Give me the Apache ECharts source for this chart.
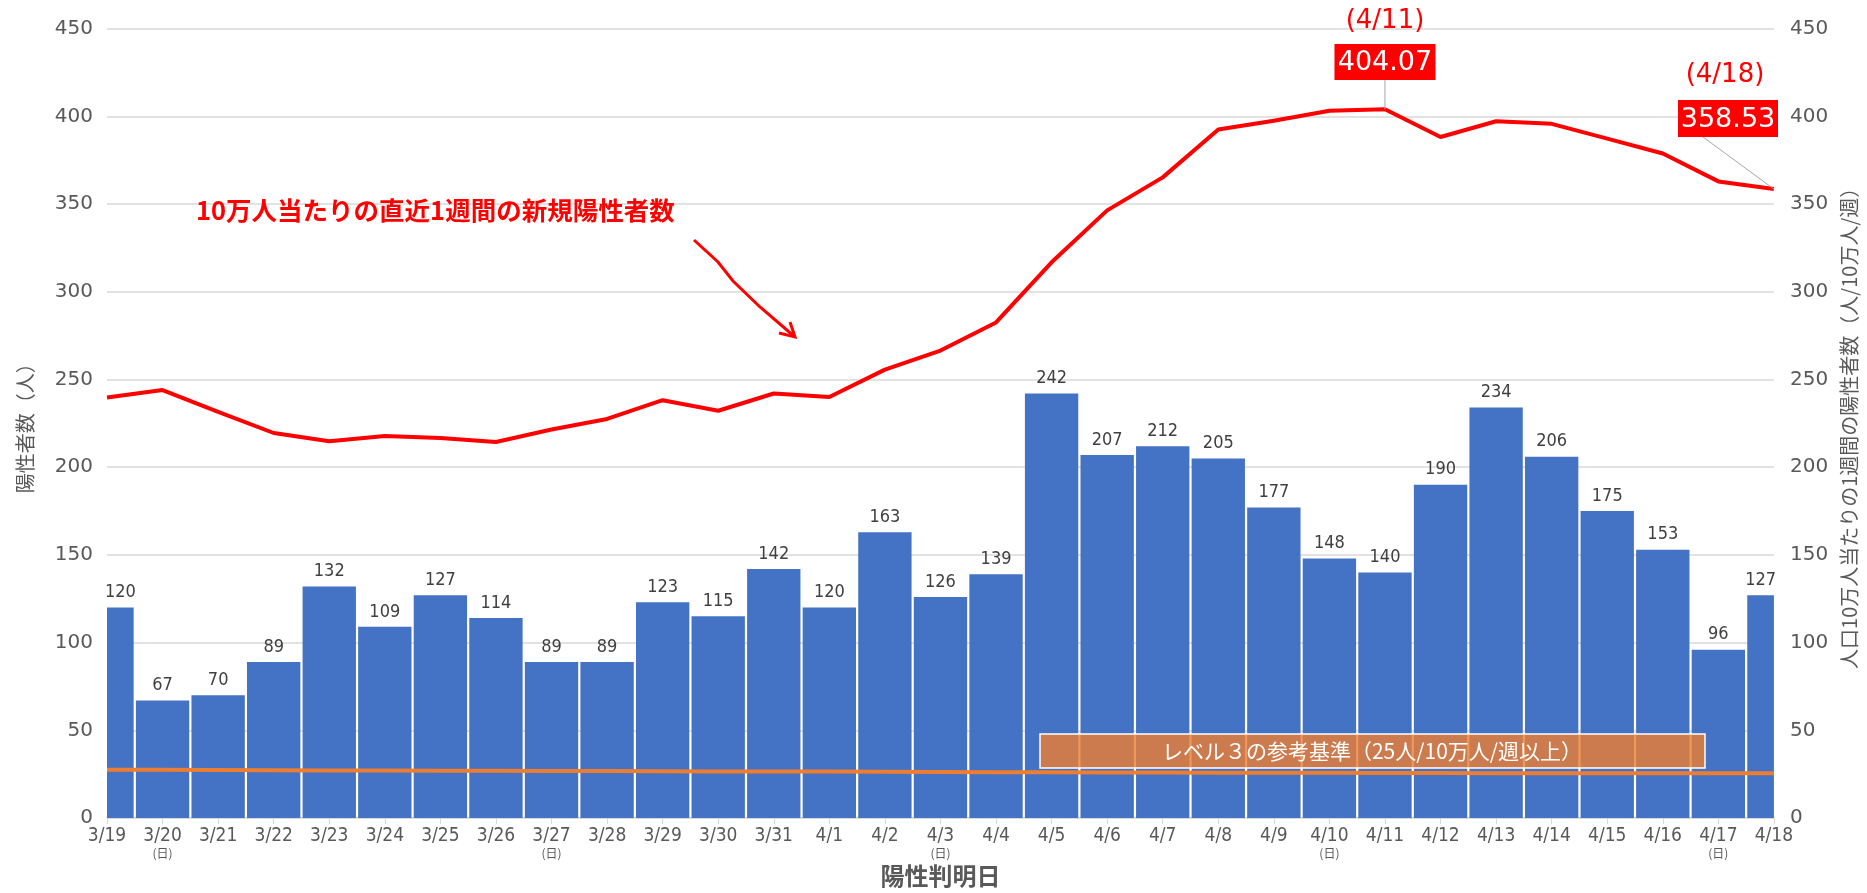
<!DOCTYPE html>
<html>
<head>
<meta charset="utf-8">
<script src="https://cdn.jsdelivr.net/npm/echarts@6/dist/echarts.min.js"></script>
<style>
html,body{margin:0;padding:0;background:#fff;}
#main{width:1867px;height:893px;}
</style>
</head>
<body>
<div id="main"></div>
<script>
/*日付*/
var dates = ['3/19','3/20','3/21','3/22','3/23','3/24','3/25','3/26','3/27','3/28','3/29','3/30','3/31',
	'4/1','4/2','4/3','4/4','4/5','4/6','4/7','4/8','4/9','4/10','4/11','4/12','4/13','4/14','4/15','4/16','4/17','4/18'];
/*日曜日*/
var sundays = ['3/20','3/27','4/3','4/10','4/17'];
/*陽性者数（人）*/
var positives = [120,67,70,89,132,109,127,114,89,89,123,115,142,120,163,126,139,
	242,207,212,205,177,148,140,190,234,206,175,153,96,127];
/*人口10万人当たりの1週間の陽性者数*/
var per100k = [239.7,244.0,231.5,219.5,214.8,217.8,216.7,214.4,221.5,227.5,238.2,232.2,242.0,
	240.0,255.6,266.5,282.5,316.8,346.4,365.2,392.5,397.5,403.2,404.07,388.2,397.2,395.7,387.3,378.8,362.9,358.53];
/*レベル３の参考基準*/
var level3 = [27.5,27.5,27.4,27.3,27.2,27.1,27.0,27.0,26.9,26.8,26.7,26.6,26.5,26.5,26.4,26.3,
	26.2,26.1,26.0,26.0,25.9,25.8,25.8,25.7,25.7,25.6,25.6,25.5,25.5,25.5,25.5];

var gray = '#595959';
var jp = '"Noto Sans CJK JP", "Noto Sans", sans-serif';
var num = '"DejaVu Sans", "Noto Sans", sans-serif';
var narrow = '"Liberation Sans Narrow", "DejaVu Sans Condensed", "Noto Sans", sans-serif';

/*棒（左右の端は半分だけ表示）*/
function renderBar(params, api){
	var idx = api.value(0);
	var val = api.value(1);
	var top = api.coord([idx, val]);
	var base = api.coord([idx, 0]);
	var w = api.size([1, 0])[0] * 0.96;
	var cs = params.coordSys;
	var x0 = Math.max(top[0] - w / 2, cs.x);
	var x1 = Math.min(top[0] + w / 2, cs.x + cs.width);
	return {
		type : 'group',
		children : [ {
			type : 'rect',
			shape : { x : x0, y : top[1], width : x1 - x0, height : base[1] - top[1] },
			style : { fill : '#4472C4' }
		}, {
			type : 'text',
			style : {
				x : (x0 + x1) / 2, y : top[1] - 6, text : String(val),
				fill : '#404040', font : '18px ' + narrow,
				textAlign : 'center', textVerticalAlign : 'bottom'
			}
		} ]
	};
}

var chart = echarts.init(document.getElementById('main'));
var option = {
	animation : false,
	grid : {
		left : 107,
		right : 87,
		top : 28.6,
		bottom : 68
	},
	xAxis : {
		type : 'category',
		data : dates,
		boundaryGap : false,
		name : '陽性判明日',
		nameLocation : 'middle',
		nameGap : 43,
		nameTextStyle : { color : gray, fontSize : 24, fontWeight : 'bold', fontFamily : jp },
		axisLine : { lineStyle : { color : '#D9D9D9', width : 1.5 } },
		axisTick : { show : true, length : 6, lineStyle : { color : '#D9D9D9' } },
		axisLabel : {
			interval : 0,
			margin : 8,
			formatter : function(value){
				if(sundays.indexOf(value) >= 0){
					return '{d|' + value + '}\n{s|(日)}';
				}
				return '{d|' + value + '}';
			},
			rich : {
				d : { fontSize : 19, lineHeight : 20, color : gray, fontFamily : narrow },
				s : { fontSize : 12, lineHeight : 14, color : gray, fontFamily : jp }
			}
		}
	},
	yAxis : [ {
		type : 'value',
		min : 0,
		max : 450,
		interval : 50,
		name : '陽性者数（人）',
		nameLocation : 'middle',
		nameRotate : 90,
		nameGap : 72,
		nameTextStyle : { color : gray, fontSize : 20, fontFamily : jp },
		axisLine : { show : false },
		axisTick : { show : false },
		axisLabel : { color : gray, fontSize : 20, margin : 14, fontFamily : num },
		splitLine : { lineStyle : { color : '#D9D9D9', width : 1.5 } }
	}, {
		type : 'value',
		min : 0,
		max : 450,
		interval : 50,
		position : 'right',
		name : '人口10万人当たりの1週間の陽性者数（人/10万人/週）',
		nameLocation : 'middle',
		nameRotate : 90,
		nameGap : 62,
		nameTextStyle : { color : gray, fontSize : 20, fontFamily : jp },
		axisLine : { show : false },
		axisTick : { show : false },
		axisLabel : { color : gray, fontSize : 20, margin : 16, fontFamily : num },
		splitLine : { show : false }
	} ],
	series : [ {
		name : '陽性者数',
		type : 'custom',
		renderItem : renderBar,
		encode : { x : 0, y : 1 },
		data : positives.map(function(v, i){ return [i, v]; }),
		z : 2
	}, {
		name : '10万人当たり',
		type : 'line',
		yAxisIndex : 1,
		data : per100k,
		symbol : 'none',
		lineStyle : { color : '#FF0000', width : 4 },
		z : 5
	}, {
		name : 'レベル３',
		type : 'line',
		data : level3,
		symbol : 'none',
		lineStyle : { color : '#ED7D31', width : 4 },
		z : 4
	} ]
};
chart.setOption(option);

/*注記*/
var iMax = dates.indexOf('4/11');
var iEnd = dates.length - 1;
var pMax = chart.convertToPixel({ seriesIndex : 1 }, [iMax, per100k[iMax]]);
var pEnd = chart.convertToPixel({ seriesIndex : 1 }, [iEnd, per100k[iEnd]]);

function valueBox(cx, top, w, h, txt){
	return {
		type : 'group',
		z : 100,
		children : [ {
			type : 'rect',
			z : 100,
			shape : { x : cx - w / 2, y : top, width : w, height : h },
			style : { fill : '#FF0000' }
		}, {
			type : 'text',
			z : 101,
			style : {
				x : cx, y : top + h / 2 + 1, text : txt,
				fill : '#fff', font : '27px ' + num,
				textAlign : 'center', textVerticalAlign : 'middle'
			}
		} ]
	};
}

function redText(x, y, txt){
	return {
		type : 'text',
		z : 100,
		style : {
			x : x, y : y, text : txt,
			fill : '#FF0000', font : '26px ' + num,
			textAlign : 'center', textVerticalAlign : 'middle'
		}
	};
}

chart.setOption({
	graphic : [
		{
			type : 'text',
			z : 100,
			style : {
				x : 196, y : 210, text : '10万人当たりの直近1週間の新規陽性者数',
				fill : '#FF0000', font : 'bold 25.5px ' + jp,
				textVerticalAlign : 'middle'
			}
		},
		{
			type : 'polyline',
			z : 100,
			shape : { points : [[694,240],[718,262],[733,281],[760,307],[795,337]] },
			style : { stroke : '#FF0000', lineWidth : 3, fill : null }
		},
		{
			type : 'polyline',
			z : 100,
			shape : { points : [[779,333],[795,337],[790,322]] },
			style : { stroke : '#FF0000', lineWidth : 3, fill : null }
		},
		{
			type : 'line',
			z : 100,
			shape : { x1 : pMax[0], y1 : 80, x2 : pMax[0], y2 : pMax[1] },
			style : { stroke : '#A6A6A6', lineWidth : 1 }
		},
		redText(pMax[0], 21, '(4/11)'),
		valueBox(pMax[0], 44, 101, 36, '404.07'),
		{
			type : 'line',
			z : 100,
			shape : { x1 : 1703, y1 : 137, x2 : pEnd[0], y2 : pEnd[1] },
			style : { stroke : '#A6A6A6', lineWidth : 1 }
		},
		redText(1725, 75, '(4/18)'),
		valueBox(1728, 100, 100, 37, '358.53'),
		{
			type : 'rect',
			z : 100,
			shape : { x : 1040, y : 734, width : 665, height : 34 },
			style : { fill : 'rgba(237,125,49,0.8)', stroke : '#FFFFFF', lineWidth : 1.5 }
		},
		{
			type : 'text',
			z : 101,
			style : {
				x : 1372, y : 751, text : 'レベル３の参考基準（25人/10万人/週以上）',
				fill : '#FFFFFF', font : '21px ' + jp,
				textAlign : 'center', textVerticalAlign : 'middle'
			}
		}
	]
});
</script>
</body>
</html>
